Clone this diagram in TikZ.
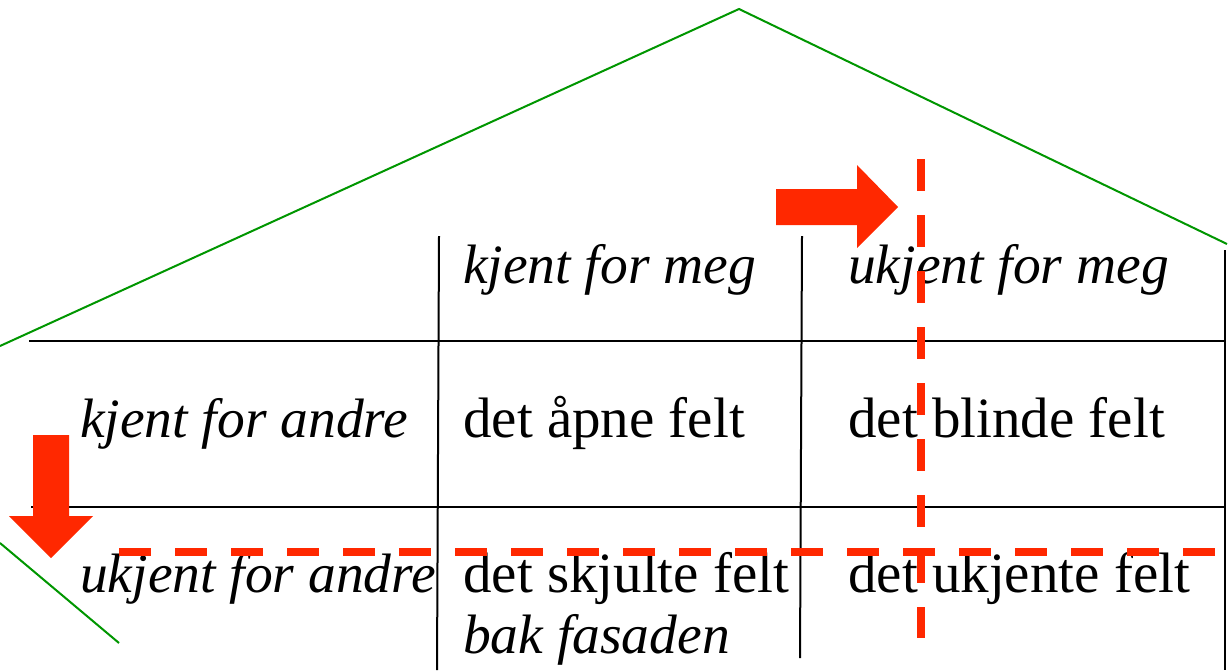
\documentclass[tikz,border=0pt]{standalone}
\usepackage{fontspec}
\setmainfont{Liberation Serif}
\definecolor{roofgreen}{RGB}{0,150,0}
\definecolor{jred}{RGB}{255,40,0}
\begin{document}
\begin{tikzpicture}[x=1pt,y=-1pt,
  grid/.style={line width=2pt,black},
  roof/.style={line width=2pt,roofgreen},
  redash/.style={line width=8pt,jred,dash pattern=on 32pt off 24pt},
  redarrow/.style={fill=jred,draw=none},
  lbl/.style={anchor=base west,inner sep=0pt,font=\fontsize{57}{64}\selectfont},
  ilbl/.style={anchor=base west,inner sep=0pt,font=\fontsize{55.5}{62}\selectfont\itshape}]
\useasboundingbox (0,0) rectangle (1228,670);
% roof
\coordinate (rl) at (0,346);
\coordinate (apex) at (739,9);
\coordinate (rr) at (1227,244);
\coordinate (ll1) at (0,543);
\coordinate (ll2) at (119,643);
\draw[roof] (rl) -- (apex) -- (rr);
\draw[roof] (ll1) -- (ll2);
% grid
\coordinate (h1a) at (29,341); \coordinate (h1b) at (1224,341);
\coordinate (h2a) at (31,507); \coordinate (h2b) at (1224,507);
\coordinate (v1a) at (439,236); \coordinate (v1b) at (437,670);
\coordinate (v2a) at (802,236); \coordinate (v2b) at (800,658);
\coordinate (v3a) at (1225,250); \coordinate (v3b) at (1225,670);
\draw[grid] (h1a) -- (h1b);
\draw[grid] (h2a) -- (h2b);
\draw[grid] (v1a) -- (v1b);
\draw[grid] (v2a) -- (v2b);
\draw[grid] (v3a) -- (v3b);
% labels
\node[ilbl] (c1) at (463,283) {kjent for meg};
\node[ilbl] (c2) at (848,283) {ukjent for meg};
\node[ilbl] (r1) at (80,437) {kjent for andre};
\node[lbl] (f1) at (463,437) {det åpne felt};
\node[lbl] (f2) at (848,437) {det blinde felt};
\node[ilbl] (r2) at (80,592) {ukjent for andre};
\node[lbl] (f3) at (463,592) {det skjulte felt};
\node[ilbl] (f3b) at (463,653) {bak fasaden};
\node[lbl] (f4) at (848,592) {det ukjente felt};
% red dashed lines
\coordinate (dh1) at (119,552); \coordinate (dh2) at (1218,552);
\coordinate (dv1) at (921,159); \coordinate (dv2) at (921,638);
\draw[redash] (dh1) -- (dh2);
\draw[redash] (dv1) -- (dv2);
% red arrows
\fill[redarrow] (776,189) -- (857,189) -- (857,165) -- (898,207) -- (857,248) -- (857,225) -- (776,225) -- cycle;
\fill[redarrow] (33,435) -- (69,435) -- (69,516) -- (93,516) -- (51,558) -- (9,516) -- (33,516) -- cycle;
\end{tikzpicture}
\end{document}
